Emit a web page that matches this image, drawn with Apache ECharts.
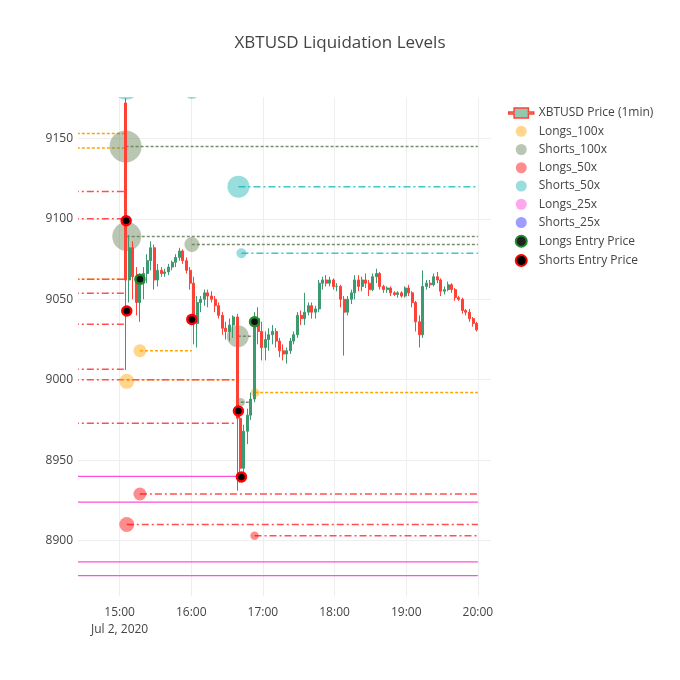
<!DOCTYPE html>
<html><head><meta charset="utf-8">
<script src="https://cdn.jsdelivr.net/npm/echarts@6/dist/echarts.min.js"></script>
<style>html,body{margin:0;padding:0;background:#fff}#c{width:680px;height:680px}</style>
</head><body><div id="c"></div>
<script>
// ---------------- DATA ----------------
const chartTitle = 'XBTUSD Liquidation Levels';
const dateLabel = 'Jul 2, 2020';
const xTicks = ['15:00', '16:00', '17:00', '18:00', '19:00', '20:00'];
const yTicks = [8900, 8950, 9000, 9050, 9100, 9150];
const xRange = ['14:25:10', '20:11'];
const yRange = [8865.6, 9175.7];

// [time, open, close, low, high]
const candles = [
  ['15:05', 9172, 9062, 9006, 9175],
  ['15:08', 9062, 9082, 9048, 9090],
  ['15:11', 9082, 9064, 9050, 9086],
  ['15:14', 9064, 9048, 9040, 9070],
  ['15:17', 9048, 9060, 9036, 9066],
  ['15:20', 9060, 9066, 9050, 9070],
  ['15:23', 9066, 9074, 9060, 9078],
  ['15:26', 9074, 9082, 9068, 9086],
  ['15:29', 9082, 9062, 9056, 9084],
  ['15:32', 9062, 9068, 9058, 9072],
  ['15:35', 9068, 9066, 9064, 9070],
  ['15:38', 9066, 9067, 9064, 9069],
  ['15:41', 9067, 9070, 9065, 9072],
  ['15:44', 9070, 9073, 9068, 9074],
  ['15:47', 9073, 9076, 9070, 9078],
  ['15:50', 9076, 9080, 9074, 9082],
  ['15:53', 9080, 9074, 9072, 9081],
  ['15:56', 9074, 9068, 9066, 9076],
  ['15:59', 9068, 9060, 9056, 9070],
  ['16:02', 9060, 9035, 9022, 9064],
  ['16:05', 9035, 9048, 9020, 9052],
  ['16:08', 9048, 9050, 9042, 9052],
  ['16:11', 9050, 9054, 9046, 9056],
  ['16:14', 9054, 9052, 9045, 9056],
  ['16:17', 9052, 9050, 9048, 9055],
  ['16:20', 9050, 9046, 9042, 9052],
  ['16:23', 9046, 9040, 9038, 9048],
  ['16:26', 9040, 9032, 9028, 9042],
  ['16:29', 9032, 9030, 9025, 9036],
  ['16:32', 9030, 9034, 9024, 9038],
  ['16:35', 9034, 9039, 9026, 9040],
  ['16:39', 9039, 8976, 8931, 9041],
  ['16:41', 8976, 8945, 8936, 8982],
  ['16:44', 8945, 8968, 8940, 8972],
  ['16:47', 8968, 8978, 8960, 8982],
  ['16:50', 8978, 8988, 8975, 8992],
  ['16:53', 8988, 9038, 8986, 9042],
  ['16:56', 9038, 9030, 9022, 9045],
  ['16:59', 9030, 9020, 9012, 9036],
  ['17:02', 9020, 9025, 9012, 9030],
  ['17:05', 9025, 9028, 9018, 9032],
  ['17:08', 9028, 9030, 9022, 9034],
  ['17:11', 9030, 9024, 9020, 9032],
  ['17:14', 9024, 9018, 9014, 9026],
  ['17:17', 9018, 9016, 9012, 9022],
  ['17:20', 9016, 9018, 9010, 9020],
  ['17:23', 9018, 9024, 9016, 9026],
  ['17:26', 9024, 9028, 9022, 9030],
  ['17:29', 9028, 9040, 9026, 9042],
  ['17:32', 9040, 9038, 9034, 9043],
  ['17:35', 9038, 9042, 9034, 9054],
  ['17:38', 9042, 9046, 9040, 9048],
  ['17:41', 9046, 9042, 9038, 9048],
  ['17:44', 9042, 9044, 9038, 9046],
  ['17:47', 9044, 9060, 9042, 9062],
  ['17:50', 9060, 9062, 9056, 9064],
  ['17:53', 9062, 9060, 9058, 9065],
  ['17:56', 9060, 9062, 9058, 9064],
  ['17:59', 9062, 9058, 9056, 9063],
  ['18:02', 9058, 9058, 9055, 9060],
  ['18:05', 9058, 9050, 9045, 9059],
  ['18:08', 9050, 9042, 9015, 9052],
  ['18:11', 9042, 9050, 9040, 9052],
  ['18:14', 9050, 9054, 9047, 9056],
  ['18:17', 9054, 9062, 9050, 9065],
  ['18:20', 9062, 9058, 9055, 9065],
  ['18:23', 9058, 9062, 9055, 9064],
  ['18:26', 9062, 9060, 9057, 9066],
  ['18:29', 9060, 9056, 9052, 9062],
  ['18:32', 9056, 9064, 9055, 9066],
  ['18:35', 9064, 9066, 9060, 9069],
  ['18:38', 9066, 9058, 9056, 9067],
  ['18:41', 9058, 9056, 9054, 9059],
  ['18:44', 9056, 9057, 9054, 9058],
  ['18:47', 9057, 9054, 9052, 9058],
  ['18:50', 9054, 9053, 9052, 9055],
  ['18:53', 9053, 9054, 9051, 9055],
  ['18:56', 9054, 9052, 9051, 9055],
  ['18:59', 9052, 9057, 9051, 9058],
  ['19:02', 9057, 9054, 9052, 9059],
  ['19:05', 9054, 9048, 9045, 9055],
  ['19:08', 9048, 9036, 9030, 9049],
  ['19:11', 9036, 9028, 9020, 9040],
  ['19:14', 9028, 9058, 9026, 9068],
  ['19:17', 9058, 9060, 9056, 9062],
  ['19:20', 9060, 9059, 9057, 9062],
  ['19:23', 9059, 9064, 9058, 9066],
  ['19:26', 9064, 9062, 9060, 9067],
  ['19:29', 9062, 9055, 9052, 9063],
  ['19:32', 9055, 9056, 9053, 9058],
  ['19:35', 9056, 9059, 9055, 9061],
  ['19:38', 9059, 9056, 9054, 9060],
  ['19:41', 9056, 9051, 9049, 9057],
  ['19:44', 9051, 9050, 9049, 9052],
  ['19:47', 9050, 9043, 9041, 9051],
  ['19:50', 9043, 9042, 9040, 9044],
  ['19:53', 9042, 9038, 9036, 9044],
  ['19:56', 9038, 9035, 9033, 9039],
  ['19:59', 9035, 9031, 9030, 9036]
];

// liquidation bubbles: [time, price, amount]
const longs100 = [['15:06', 8999, 56], ['15:17', 9018, 42], ['16:53:30', 8992, 20]];
const shorts100 = [['15:05', 9145, 256], ['15:06', 9089, 210], ['16:00:30', 9084, 56], ['16:39', 9027, 121], ['16:41:30', 8986, 18]];
const longs50 = [['15:06', 8910, 56], ['15:17', 8929, 42], ['16:53', 8903, 18]];
const shorts50 = [['15:05:30', 9182, 169], ['16:00:30', 9179.5, 64], ['16:39:30', 9120, 121], ['16:42', 9078.6, 25]];
const longs25 = [];
const shorts25 = [];

// entries: [time, price]
const longsEntry = [['15:17', 9062.4], ['16:53', 9036]];
const shortsEntry = [['15:05:30', 9098.8], ['15:06', 9042.7], ['16:00:30', 9037.5], ['16:39:30', 8980.6], ['16:42', 8939.6]];

// level lines: [start, end, price]
const longs100Lines = [['14:20', '15:05', 9153], ['14:20', '15:05', 9144], ['14:20', '15:05', 9062.5], ['15:06', '16:39', 9000], ['15:17', '16:00:30', 9018], ['16:53:30', '20:00', 8992]];
const shorts100Lines = [['15:05', '20:00', 9145], ['15:06', '20:00', 9089], ['16:00:30', '20:00', 9084], ['16:39', '16:52', 9027], ['16:41:30', '16:50', 8986]];
const longs50Lines = [['14:20', '15:05', 9117], ['14:20', '15:05', 9100], ['14:20', '15:05', 9062.5], ['14:20', '15:05', 9053.7], ['14:20', '15:05', 9034.4], ['14:20', '15:05', 9006.5], ['14:20', '16:39', 9000], ['14:20', '16:38', 8973], ['15:17', '20:00', 8929], ['15:06', '20:00', 8910], ['16:53', '20:00', 8903]];
const shorts50Lines = [['16:39:30', '20:00', 9120], ['16:42', '20:00', 9078.6]];
const longs25Lines = [['14:20', '16:40', 8940], ['14:20', '20:00', 8924], ['14:20', '20:00', 8886.8], ['14:20', '20:00', 8878.2]];

// ---------------- BUILD ----------------
const FONT = '"Open Sans", "DejaVu Sans", sans-serif';
function toMin(t) { const p = t.split(':').map(Number); return p[0] * 60 + p[1] + (p[2] || 0) / 60; }
function fmt(v) { const h = Math.floor(v / 60), m = Math.round(v - h * 60); return h + ':' + String(m).padStart(2, '0'); }

const C = {
  up: '#3D9970', down: '#FF4136',
  l100: 'rgba(255,165,0,0.45)', s100: 'rgba(100,130,85,0.45)',
  l50: 'rgba(255,0,0,0.45)', s50: 'rgba(30,180,180,0.45)',
  l25: 'rgba(255,80,220,0.5)', s25: 'rgba(60,60,255,0.5)'
};

function bubbleSeries(name, rows, color) {
  return {
    name, type: 'custom', clip: true, z: 3,
    itemStyle: { color },
    data: rows.map(r => [toMin(r[0]), r[1], r[2]]),
    encode: { x: 0, y: 1 },
    renderItem: function (params, api) {
      const p = api.coord([api.value(0), api.value(1)]);
      return { type: 'circle', shape: { cx: p[0], cy: p[1], r: Math.sqrt(api.value(2)) }, style: { fill: color } };
    }
  };
}
function lineSeries(name, rows, color, dash, width) {
  return {
    name, type: 'custom', clip: true, z: 2,
    data: rows.map(r => [toMin(r[0]), toMin(r[1]), r[2]]),
    encode: { x: [0, 1], y: 2 },
    renderItem: function (params, api) {
      const a = api.coord([api.value(0), api.value(2)]);
      const b = api.coord([api.value(1), api.value(2)]);
      return { type: 'line', shape: { x1: a[0], y1: a[1], x2: b[0], y2: b[1] },
        style: { stroke: color, lineWidth: width, lineDash: dash, fill: null } };
    }
  };
}

const DASHDOT = [7, 3, 2, 3];
const DOT = [3, 2];

const option = {
  animation: false,
  backgroundColor: '#fff',
  textStyle: { fontFamily: FONT },
  title: { text: chartTitle, left: 'center', top: 30,
    textStyle: { fontSize: 17, fontWeight: 'normal', color: '#444', fontFamily: FONT } },
  grid: { left: 78, right: 189, top: 97, bottom: 84 },
  legend: {
    orient: 'vertical', left: 503, top: 102, itemWidth: 25, itemHeight: 11, itemGap: 6.25,
    textStyle: { fontSize: 12, color: '#444', fontFamily: FONT },
    data: [
      { name: 'XBTUSD Price (1min)', icon: 'path://M0,5.5H6V1H22V5.5H28V7.5H22V12H6V7.5H0Z',
        itemStyle: { color: 'rgba(61,153,112,0.55)', borderColor: C.down, borderWidth: 1.5 } },
      { name: 'Longs_100x', icon: 'circle', itemStyle: { color: C.l100 } },
      { name: 'Shorts_100x', icon: 'circle', itemStyle: { color: C.s100 } },
      { name: 'Longs_50x', icon: 'circle', itemStyle: { color: C.l50 } },
      { name: 'Shorts_50x', icon: 'circle', itemStyle: { color: C.s50 } },
      { name: 'Longs_25x', icon: 'circle', itemStyle: { color: C.l25 } },
      { name: 'Shorts_25x', icon: 'circle', itemStyle: { color: C.s25 } },
      { name: 'Longs Entry Price', icon: 'circle', itemStyle: { color: '#222', borderColor: '#1f8a2e', borderWidth: 2 } },
      { name: 'Shorts Entry Price', icon: 'circle', itemStyle: { color: '#000', borderColor: '#ff0000', borderWidth: 2 } }
    ]
  },
  xAxis: {
    type: 'value', min: toMin(xRange[0]), max: toMin(xRange[1]),
    axisLine: { show: false },
    axisTick: { show: false, customValues: xTicks.map(toMin) },
    splitLine: { show: true, lineStyle: { color: '#eee', width: 1 } },
    axisLabel: {
      customValues: xTicks.map(toMin), margin: 8, fontSize: 12, color: '#444', lineHeight: 17, fontFamily: FONT,
      formatter: v => (Math.abs(v - toMin(xTicks[0])) < 0.01 ? fmt(v) + '\n' + dateLabel : fmt(v))
    }
  },
  yAxis: {
    type: 'value', min: yRange[0], max: yRange[1],
    axisLine: { show: false },
    axisTick: { show: false, customValues: yTicks },
    splitLine: { show: true, lineStyle: { color: '#eee', width: 1 } },
    axisLabel: { customValues: yTicks, margin: 5, fontSize: 12, color: '#444', fontFamily: FONT,
      formatter: v => String(Math.round(v)) }
  },
  series: [
    lineSeries('l100 levels', longs100Lines, '#FFA500', DOT, 1.5),
    lineSeries('s100 levels', shorts100Lines, '#7A8C6E', DOT, 1.5),
    lineSeries('l50 levels', longs50Lines, '#FF4F4F', DASHDOT, 1.5),
    lineSeries('s50 levels', shorts50Lines, '#3CC8C8', DASHDOT, 1.5),
    lineSeries('l25 levels', longs25Lines, '#FF4FD8', null, 1.2),
    bubbleSeries('Longs_100x', longs100, C.l100),
    bubbleSeries('Shorts_100x', shorts100, C.s100),
    bubbleSeries('Longs_50x', longs50, C.l50),
    bubbleSeries('Shorts_50x', shorts50, C.s50),
    bubbleSeries('Longs_25x', longs25, C.l25),
    bubbleSeries('Shorts_25x', shorts25, C.s25),
    {
      name: 'XBTUSD Price (1min)', type: 'candlestick', z: 4, barWidth: 2.5,
      itemStyle: { color: C.up, color0: C.down, borderColor: C.up, borderColor0: C.down, borderWidth: 1 },
      encode: { x: 0, y: [1, 2, 3, 4] },
      data: candles.map(r => [toMin(r[0]), r[1], r[2], r[3], r[4]])
    },
    {
      name: 'Longs Entry Price', type: 'scatter', z: 5, symbolSize: 9,
      itemStyle: { color: '#111', borderColor: '#1f8a2e', borderWidth: 2.5, opacity: 1 },
      data: longsEntry.map(r => [toMin(r[0]), r[1]])
    },
    {
      name: 'Shorts Entry Price', type: 'scatter', z: 5, symbolSize: 9,
      itemStyle: { color: '#000', borderColor: '#ff0000', borderWidth: 2.5, opacity: 1 },
      data: shortsEntry.map(r => [toMin(r[0]), r[1]])
    }
  ]
};

const chart = echarts.init(document.getElementById('c'), null, { renderer: 'canvas' });
chart.setOption(option);
</script>
</body></html>
